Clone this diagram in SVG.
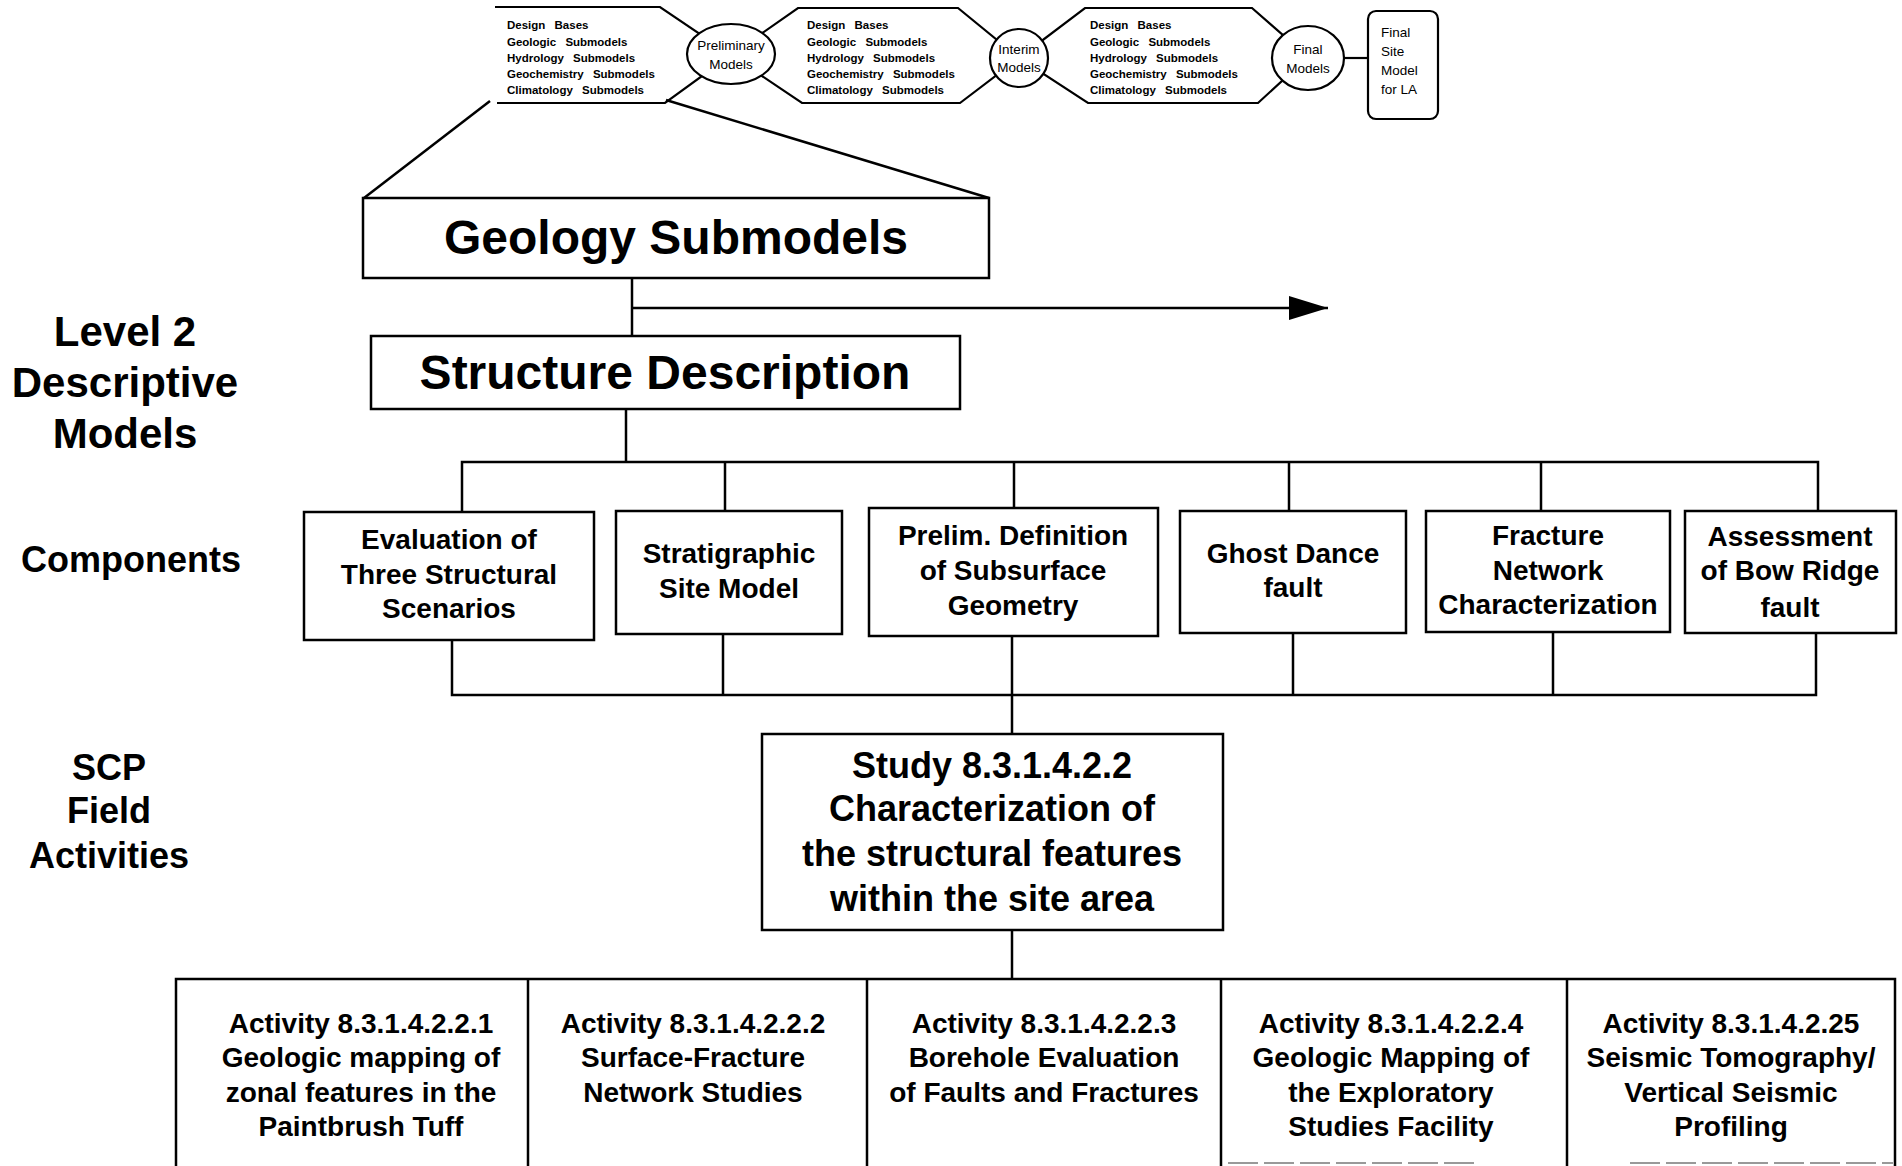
<svg xmlns="http://www.w3.org/2000/svg" width="1902" height="1166" viewBox="0 0 1902 1166">
<style>
  .bx{fill:#fff;stroke:#000;stroke-width:2.5}
  .ln{fill:none;stroke:#000;stroke-width:2.5}
  .hx{fill:#fff;stroke:#000;stroke-width:2.2}
  .t{font-family:"Liberation Sans",Arial,sans-serif;font-weight:bold;fill:#000;text-anchor:middle}
  .sm{font-family:"Liberation Sans",Arial,sans-serif;font-weight:bold;font-size:11.5px;fill:#000;word-spacing:6px}
  .el{font-family:"Liberation Sans",Arial,sans-serif;font-size:13.5px;fill:#000;text-anchor:middle}
  .big{font-size:48px}
  .lbl{font-size:42px}
  .lb2{font-size:36px}
  .cmp{font-size:28px}
  .std{font-size:36px}
  .act{font-size:28px}
</style>
<defs>
  <marker id="ah" markerWidth="40" markerHeight="26" refX="39" refY="12" orient="auto" markerUnits="userSpaceOnUse">
    <polygon points="0,0 39,12 0,24" fill="#000"/>
  </marker>
</defs>
<rect width="1902" height="1166" fill="#fff"/>

<!-- top strip -->
<g id="hex1">
  <path class="hx" d="M495,7 L660,7 L731,55 L665,103 L497,103"/>
  <text class="sm" x="507" y="29">Design Bases</text>
  <text class="sm" x="507" y="46">Geologic Submodels</text>
  <text class="sm" x="507" y="62">Hydrology Submodels</text>
  <text class="sm" x="507" y="78">Geochemistry Submodels</text>
  <text class="sm" x="507" y="94">Climatology Submodels</text>
</g>
<g id="hex2">
  <path class="hx" d="M731,55 L798,8 L958,8 L1019,58 L960,103 L802,103 Z"/>
  <text class="sm" x="807" y="29">Design Bases</text>
  <text class="sm" x="807" y="46">Geologic Submodels</text>
  <text class="sm" x="807" y="62">Hydrology Submodels</text>
  <text class="sm" x="807" y="78">Geochemistry Submodels</text>
  <text class="sm" x="807" y="94">Climatology Submodels</text>
</g>
<g id="hex3">
  <path class="hx" d="M1019,58 L1085,8 L1252,8 L1308,57 L1258,103 L1088,103 Z"/>
  <text class="sm" x="1090" y="29">Design Bases</text>
  <text class="sm" x="1090" y="46">Geologic Submodels</text>
  <text class="sm" x="1090" y="62">Hydrology Submodels</text>
  <text class="sm" x="1090" y="78">Geochemistry Submodels</text>
  <text class="sm" x="1090" y="94">Climatology Submodels</text>
</g>
<g id="prelim">
  <ellipse class="hx" cx="731" cy="54" rx="44" ry="30"/>
  <text class="el" x="731" y="50">Preliminary</text>
  <text class="el" x="731" y="69">Models</text>
</g>
<g id="interim">
  <ellipse class="hx" cx="1019" cy="58" rx="29" ry="29"/>
  <text class="el" x="1019" y="54">Interim</text>
  <text class="el" x="1019" y="72">Models</text>
</g>
<g id="final">
  <ellipse class="hx" cx="1308" cy="58" rx="36" ry="32"/>
  <text class="el" x="1308" y="54">Final</text>
  <text class="el" x="1308" y="73">Models</text>
</g>
<g id="finalsite">
  <rect class="hx" x="1368" y="11" width="70" height="108" rx="8"/>
  <text class="el" x="1381" y="37" style="text-anchor:start">Final</text>
  <text class="el" x="1381" y="56" style="text-anchor:start">Site</text>
  <text class="el" x="1381" y="75" style="text-anchor:start">Model</text>
  <text class="el" x="1381" y="94" style="text-anchor:start">for LA</text>
</g>

<!-- left labels -->
<g id="labels">
  <text class="t lbl" x="125" y="346">Level 2</text>
  <text class="t lbl" x="125" y="397">Descriptive</text>
  <text class="t lbl" x="125" y="448">Models</text>
  <text class="t lb2" x="131" y="572">Components</text>
  <text class="t lb2" x="109" y="780">SCP</text>
  <text class="t lb2" x="109" y="823">Field</text>
  <text class="t lb2" x="109" y="868">Activities</text>
</g>

<!-- connectors -->
<g id="connectors">
  <line class="ln" x1="490" y1="101" x2="364" y2="198"/>
  <line class="ln" x1="666" y1="100" x2="989" y2="198"/>
  <line class="hx" x1="1344" y1="58" x2="1368" y2="58"/>
  <line class="ln" x1="632" y1="278" x2="632" y2="336"/>
  <line class="ln" x1="632" y1="308" x2="1328" y2="308" marker-end="url(#ah)"/>
  <line class="ln" x1="626" y1="409" x2="626" y2="462"/>
  <path class="ln" d="M462,512 V462 H1818 V511 M725,462 V511 M1014,462 V508 M1289,462 V511 M1541,462 V511"/>
  <path class="ln" d="M452,640 V695 H1816 V633 M723,634 V695 M1012,636 V734 M1293,633 V695 M1553,632 V695"/>
  <line class="ln" x1="1012" y1="930" x2="1012" y2="979"/>
</g>

<g id="geology">
  <rect class="bx" x="363" y="198" width="626" height="80"/>
  <text class="t big" x="676" y="254">Geology Submodels</text>
</g>
<g id="structure">
  <rect class="bx" x="371" y="336" width="589" height="73"/>
  <text class="t big" x="665" y="389">Structure Description</text>
</g>

<g id="c1">
  <rect class="bx" x="304" y="512" width="290" height="128"/>
  <text class="t cmp" x="449" y="549">Evaluation of</text>
  <text class="t cmp" x="449" y="584">Three Structural</text>
  <text class="t cmp" x="449" y="618">Scenarios</text>
</g>
<g id="c2">
  <rect class="bx" x="616" y="511" width="226" height="123"/>
  <text class="t cmp" x="729" y="563">Stratigraphic</text>
  <text class="t cmp" x="729" y="598">Site Model</text>
</g>
<g id="c3">
  <rect class="bx" x="869" y="508" width="289" height="128"/>
  <text class="t cmp" x="1013" y="545">Prelim. Definition</text>
  <text class="t cmp" x="1013" y="580">of Subsurface</text>
  <text class="t cmp" x="1013" y="615">Geometry</text>
</g>
<g id="c4">
  <rect class="bx" x="1180" y="511" width="226" height="122"/>
  <text class="t cmp" x="1293" y="563">Ghost Dance</text>
  <text class="t cmp" x="1293" y="597">fault</text>
</g>
<g id="c5">
  <rect class="bx" x="1426" y="511" width="244" height="121"/>
  <text class="t cmp" x="1548" y="545">Fracture</text>
  <text class="t cmp" x="1548" y="580">Network</text>
  <text class="t cmp" x="1548" y="614">Characterization</text>
</g>
<g id="c6">
  <rect class="bx" x="1685" y="511" width="211" height="122"/>
  <text class="t cmp" x="1790" y="546">Assessment</text>
  <text class="t cmp" x="1790" y="580">of Bow Ridge</text>
  <text class="t cmp" x="1790" y="617">fault</text>
</g>

<g id="study">
  <rect class="bx" x="762" y="734" width="461" height="196"/>
  <text class="t std" x="992" y="778">Study 8.3.1.4.2.2</text>
  <text class="t std" x="992" y="821">Characterization of</text>
  <text class="t std" x="992" y="866">the structural features</text>
  <text class="t std" x="992" y="911">within the site area</text>
</g>

<g id="activities">
  <path class="ln" d="M176,1166 V979 H1895 V1166 M528,979 V1166 M867,979 V1166 M1221,979 V1166 M1567,979 V1166"/>
  <path d="M1228,1163 H1480 M1630,1163 H1893" stroke="#999" stroke-width="2" stroke-dasharray="30,6" fill="none"/>
</g>
<g id="a1">
  <text class="t act" x="361" y="1033">Activity 8.3.1.4.2.2.1</text>
  <text class="t act" x="361" y="1067">Geologic mapping of</text>
  <text class="t act" x="361" y="1102">zonal features in the</text>
  <text class="t act" x="361" y="1136">Paintbrush Tuff</text>
</g>
<g id="a2">
  <text class="t act" x="693" y="1033">Activity 8.3.1.4.2.2.2</text>
  <text class="t act" x="693" y="1067">Surface-Fracture</text>
  <text class="t act" x="693" y="1102">Network Studies</text>
</g>
<g id="a3">
  <text class="t act" x="1044" y="1033">Activity 8.3.1.4.2.2.3</text>
  <text class="t act" x="1044" y="1067">Borehole Evaluation</text>
  <text class="t act" x="1044" y="1102">of Faults and Fractures</text>
</g>
<g id="a4">
  <text class="t act" x="1391" y="1033">Activity 8.3.1.4.2.2.4</text>
  <text class="t act" x="1391" y="1067">Geologic Mapping of</text>
  <text class="t act" x="1391" y="1102">the Exploratory</text>
  <text class="t act" x="1391" y="1136">Studies Facility</text>
</g>
<g id="a5">
  <text class="t act" x="1731" y="1033">Activity 8.3.1.4.2.25</text>
  <text class="t act" x="1731" y="1067">Seismic Tomography/</text>
  <text class="t act" x="1731" y="1102">Vertical Seismic</text>
  <text class="t act" x="1731" y="1136">Profiling</text>
</g>
</svg>
